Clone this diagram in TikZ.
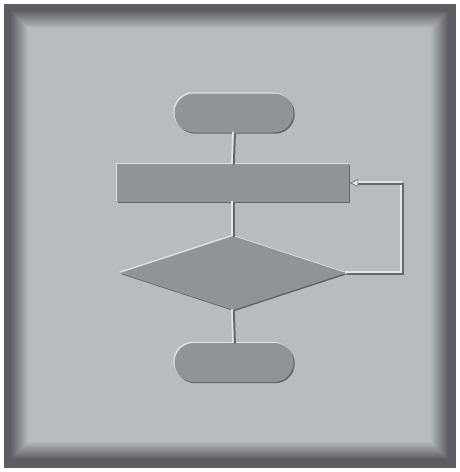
\documentclass[tikz,border=0pt]{standalone}
\usetikzlibrary{shapes.misc,shapes.geometric,arrows.meta,shadows}
\definecolor{panel}{RGB}{184,188,190}
\definecolor{frameC}{RGB}{92,92,98}
\definecolor{shapeC}{RGB}{142,148,152}
\definecolor{hiC}{RGB}{222,226,226}
\definecolor{loC}{RGB}{96,100,104}
\definecolor{lineHi}{RGB}{228,231,231}
\definecolor{lineLo}{RGB}{100,104,108}
\tikzset{
  emboss/.style={fill=shapeC, draw=none,
    drop shadow={shadow xshift=1.2pt, shadow yshift=-1.2pt, fill=loC, opacity=1},
    drop shadow={shadow xshift=-1.2pt, shadow yshift=1.2pt, fill=hiC, opacity=1}},
  term/.style={emboss, shape=rounded rectangle, minimum width=119pt, minimum height=39pt, inner sep=0pt},
  procbox/.style={emboss, shape=rectangle, minimum width=232pt, minimum height=38pt, inner sep=0pt},
  decide/.style={emboss, shape=diamond, minimum width=226pt, minimum height=74pt, inner sep=0pt},
  conn/.style={draw=lineLo, line width=2pt, transform canvas={xshift=0.9pt,yshift=-0.9pt},
    preaction={draw=lineHi, line width=2pt, transform canvas={xshift=-0.9pt,yshift=0.9pt}}},
}
\begin{document}
\begin{tikzpicture}[x=1pt,y=-1pt]
\useasboundingbox (0,0) rectangle (459,472);
\fill[white] (0,0) rectangle (459,472);
% frame with soft bevel
\fill[frameC] (4,4) rectangle (456,468);
\foreach \i in {0,...,18}{
  \pgfmathsetmacro{\m}{100*\i/18}
  \fill[panel!\m!frameC] (10+\i,10+\i) rectangle (449-\i,460-\i);
}
\fill[panel] (29,29) rectangle (430,441);
% nodes
\coordinate (loopA) at (402,273);
\node[term] (start) at (234,113) {};
\node[procbox] (proc) at (233,183) {};
\node[decide] (dec) at (233,273) {};
\node[term] (stop) at (234,362.5) {};
% connectors
\draw[conn] (start.south) -- (proc.north);
\draw[conn] (proc.south) -- (dec.north);
\draw[conn] (dec.south) -- (stop.north);
\draw[conn] (dec.east) -- (loopA) |- ([xshift=8pt]proc.east);
\draw[draw=lineLo, fill=lineHi, line width=0.6pt, -{Latex[length=9pt,width=8pt,fill=lineHi]}] ([xshift=9pt]proc.east) -- (proc.east);
\end{tikzpicture}
\end{document}
